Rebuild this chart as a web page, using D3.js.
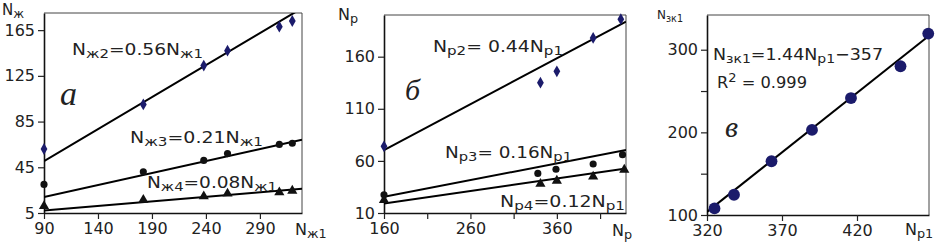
<!DOCTYPE html>
<html>
<head>
<meta charset="utf-8">
<script src="https://cdn.jsdelivr.net/npm/d3@7"></script>
<style>
  body { margin: 0; background: #fff; }
  svg { display: block; }
  text { font-family: "DejaVu Sans", sans-serif; fill: #222; }
  .letter { font-family: "Liberation Serif", serif; font-style: italic; }
</style>
</head>
<body>
<svg id="chart" width="947" height="245"></svg>
<script>
"use strict";

// panel а : Nж2, Nж3, Nж4 against Nж1
var xA = [90, 182, 238, 260, 308, 320];
var a2 = [61, 100, 134, 147, 168, 173];
var a3 = [30, 41, 51, 57, 65, 66];
var a4 = [11, 16.5, 19.5, 22, 23, 24.5];
var slopesA = [0.56, 0.21, 0.08];
var ticksAx = [90, 140, 190, 240, 290];
var ticksAy = [5, 45, 85, 125, 165];

// panel б : Np2, Np3, Np4 against Np1
var xB2 = [160, 341, 360, 402, 434];
var b2 = [74, 135, 146, 178, 196];
var xB3 = [160, 338, 359, 402, 436];
var b3 = [27.5, 48, 52, 57, 66];
var xB4 = [160, 341, 360, 402, 438];
var b4 = [22.5, 38, 41, 45, 51.5];
var slopesB = [0.44, 0.16, 0.12];
var ticksBx = [160, 210, 260, 310, 360, 410];
var labelsBx = [160, 260, 360];
var ticksBy = [10, 60, 110, 160];

// panel в : Nж1 against Np1
var xC = [325, 338, 363, 390, 416, 449, 467.5];
var c1 = [108, 124.5, 165, 203, 241.5, 280, 319.5];
var fitC = [1.44, -357];
var ticksCx = [320, 370, 420];
var ticksCy = [100, 150, 200, 250, 300];
var labelsCy = [100, 200, 300];

var svg = d3.select("#chart");
var NAVY = "#1b1b6b";

function rich(g, x, y, parts, size, len) {
  var t = g.append("text").attr("x", x).attr("y", y).style("font-size", size + "px");
  var shift = 0;
  parts.forEach(function (p) {
    var s = t.append("tspan").text(p[0]);
    var want = p[1] == "sub" ? 3 : (p[1] == "sup" ? -6 : 0);
    if (want != shift) { s.attr("dy", want - shift); shift = want; }
    if (p[1]) s.style("font-size", (size * 0.8) + "px");
  });
  if (len) t.attr("textLength", len).attr("lengthAdjust", "spacingAndGlyphs");
  return t;
}

function panel(cfg) {
  var g = svg.append("g");
  var x = d3.scaleLinear().domain(cfg.xd).range([cfg.l, cfg.r]);
  var y = d3.scaleLinear().domain(cfg.yd).range([cfg.b, cfg.t]);

  var clipId = "clip" + cfg.id;
  svg.append("clipPath").attr("id", clipId).append("rect")
    .attr("x", cfg.l).attr("y", cfg.t).attr("width", cfg.r - cfg.l).attr("height", cfg.b - cfg.t);

  // top and right frame
  g.append("path")
    .attr("d", "M" + cfg.l + "," + cfg.t + "H" + cfg.r + "V" + cfg.b)
    .attr("fill", "none").attr("stroke", "#444").attr("stroke-width", 1);

  var ax = g.append("g").attr("transform", "translate(0," + cfg.b + ")")
    .call(d3.axisBottom(x).tickValues(cfg.xt)
      .tickFormat(function (d) { return cfg.xl.indexOf(d) >= 0 ? d : ""; })
      .tickSize(6).tickSizeOuter(0).tickPadding(4));
  var ay = g.append("g").attr("transform", "translate(" + cfg.l + ",0)")
    .call(d3.axisLeft(y).tickValues(cfg.yt)
      .tickFormat(function (d) { return cfg.yl.indexOf(d) >= 0 ? d : ""; })
      .tickSize(6).tickSizeOuter(0).tickPadding(3));
  [ax, ay].forEach(function (a) {
    a.select(".domain").attr("stroke", "#111").attr("stroke-width", 1.6);
    a.selectAll(".tick line").attr("stroke", "#222").attr("stroke-width", 1.2);
    a.selectAll(".tick text").style("font-size", "16px").style("font-family", "DejaVu Sans, sans-serif").attr("fill", "#333");
  });

  var lines = g.append("g").attr("clip-path", "url(#" + clipId + ")");
  cfg.fits.forEach(function (f) {
    lines.append("line")
      .attr("x1", x(f.x0)).attr("y1", y(f.k * f.x0 + f.c))
      .attr("x2", x(f.x1)).attr("y2", y(f.k * f.x1 + f.c))
      .attr("stroke", "#000").attr("stroke-width", 2);
  });

  cfg.series.forEach(function (s) {
    g.selectAll(null).data(s.ys).enter().append("path")
      .attr("transform", function (d, i) { return "translate(" + x(s.xs[i]) + "," + y(d) + ")"; })
      .attr("d", d3.symbol().type(s.type).size(s.size))
      .attr("fill", s.color);
  });
  return g;
}

var gA = panel({
  id: "a", l: 44, r: 302, t: 13, b: 213, xd: [90, 329], yd: [5, 180],
  xt: ticksAx, xl: ticksAx, yt: ticksAy, yl: ticksAy,
  fits: slopesA.map(function (k) { return { k: k, c: 0, x0: 90, x1: 329 }; }),
  series: [
    { xs: xA, ys: a2, type: d3.symbolDiamond, size: 40, color: NAVY },
    { xs: xA, ys: a3, type: d3.symbolCircle, size: 40, color: "#111" },
    { xs: xA, ys: a4, type: d3.symbolTriangle, size: 45, color: "#111" }
  ]
});
rich(gA, 2, 15, [["N"], ["ж", "sub"]], 15);
rich(gA, 295, 235, [["N"], ["ж1", "sub"]], 16);
rich(gA, 72, 55, [["N"], ["ж2", "sub"], ["=0.56N"], ["ж1", "sub"]], 16, 131);
rich(gA, 130, 143, [["N"], ["ж3", "sub"], ["=0.21N"], ["ж1", "sub"]], 16, 133);
rich(gA, 147, 188, [["N"], ["ж4", "sub"], ["=0.08N"], ["ж1", "sub"]], 16, 130);
gA.append("text").attr("class", "letter").attr("x", 60).attr("y", 105).style("font-size", "34px").text("а");

var gB = panel({
  id: "b", l: 384, r: 626, t: 15, b: 213, xd: [160, 440], yd: [10, 200],
  xt: ticksBx, xl: labelsBx, yt: ticksBy, yl: ticksBy,
  fits: slopesB.map(function (k) { return { k: k, c: 0, x0: 160, x1: 440 }; }),
  series: [
    { xs: xB2, ys: b2, type: d3.symbolDiamond, size: 40, color: NAVY },
    { xs: xB3, ys: b3, type: d3.symbolCircle, size: 40, color: "#111" },
    { xs: xB4, ys: b4, type: d3.symbolTriangle, size: 45, color: "#111" }
  ]
});
rich(gB, 338, 20, [["N"], ["p", "sub"]], 16);
rich(gB, 612, 236, [["N"], ["p", "sub"]], 16);
rich(gB, 433, 52, [["N"], ["p2", "sub"], ["= 0.44N"], ["p1", "sub"]], 16, 130);
rich(gB, 445, 158, [["N"], ["p3", "sub"], ["= 0.16N"], ["p1", "sub"]], 16, 127);
rich(gB, 500, 207, [["N"], ["p4", "sub"], ["=0.12N"], ["p1", "sub"]], 16, 125);
gB.append("text").attr("class", "letter").attr("x", 405).attr("y", 100).style("font-size", "30px").text("б");

var gC = panel({
  id: "c", l: 707, r: 929, t: 15, b: 215, xd: [320, 468], yd: [100, 342],
  xt: ticksCx, xl: ticksCx, yt: ticksCy, yl: labelsCy,
  fits: [{ k: fitC[0], c: fitC[1], x0: 320, x1: 468 }],
  series: [
    { xs: xC, ys: c1, type: d3.symbolCircle, size: 110, color: NAVY }
  ]
});
rich(gC, 657, 19, [["N"], ["зк1", "sub"]], 12);
rich(gC, 905, 235, [["N"], ["p1", "sub"]], 16);
rich(gC, 713, 60, [["N"], ["зк1", "sub"], ["=1.44N"], ["p1", "sub"], ["−357"]], 16, 170);
rich(gC, 717, 88, [["R"], ["2", "sup"], [" = 0.999"]], 16, 90);
gC.append("text").attr("class", "letter").attr("x", 725).attr("y", 137).style("font-size", "30px").text("в");
</script>
</body>
</html>
